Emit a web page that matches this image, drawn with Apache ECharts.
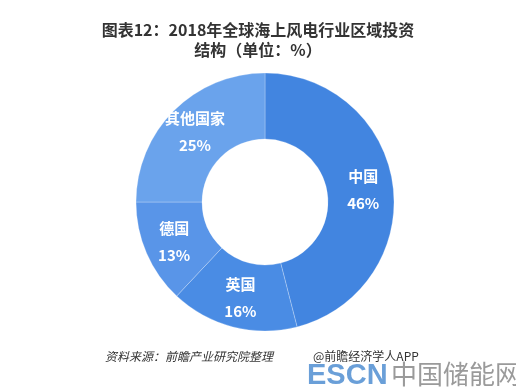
<!DOCTYPE html>
<html><head><meta charset="utf-8">
<script src="https://cdn.jsdelivr.net/npm/echarts@6/dist/echarts.min.js"></script>
<style>html,body{margin:0;padding:0;background:#fff}#c{width:516px;height:391px}</style>
</head><body><div id="c"></div>
<script>
const categories = ['中国', '英国', '德国', '其他国家'];
const values = [46, 16, 13, 25];
const colors = ['#4285e0', '#4a8ce4', '#5995e8', '#6aa3ec'];
const titleText = '图表12：2018年全球海上风电行业区域投资\n结构（单位：%）';
const sourceText = '资料来源：前瞻产业研究院整理';
const creditText = '@前瞻经济学人APP';

const chart = echarts.init(document.getElementById('c'));
const FONT = '"Noto Sans CJK SC", "Microsoft YaHei", sans-serif';
chart.setOption({
  backgroundColor: '#fff',
  title: {
    text: titleText, left: 'center', top: 15,
    textStyle: {fontFamily: FONT, fontSize: 16, fontWeight: 'bold', color: '#333', lineHeight: 20}
  },
  graphic: [
    {type: 'text', left: 105, top: 350, style: {text: sourceText, font: 'italic 12px ' + FONT, fill: '#333'}},
    {type: 'text', left: 313, top: 350, style: {text: creditText, font: '12px ' + FONT, fill: '#333'}},
    {type: 'text', left: 307, top: 361, style: {text: 'ESCN', font: 'bold 29px "Liberation Sans", Arial, sans-serif', fill: '#6a9fd8'}},
    {type: 'text', left: 391, top: 361, style: {text: '中国储能网', font: '26px ' + FONT, fill: '#9a9a9a'}}
  ],
  series: [{
    type: 'pie',
    center: [265, 202],
    radius: [63, 129],
    startAngle: 90,
    clockwise: true,
    avoidLabelOverlap: false,
    itemStyle: {borderColor: 'rgba(255,255,255,0.5)', borderWidth: 0.5},
    label: {
      show: true, position: 'inside',
      formatter: p => p.name + '\n' + p.value + '%',
      color: '#fff', fontFamily: FONT, fontSize: 15, fontWeight: 'bold', lineHeight: 27
    },
    labelLine: {show: false},
    emphasis: {disabled: true},
    data: categories.map((c, i) => ({name: c, value: values[i], itemStyle: {color: colors[i]}}))
  }],
  animation: false
});
</script></body></html>
